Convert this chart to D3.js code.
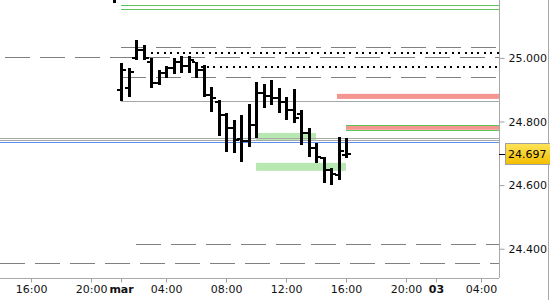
<!DOCTYPE html>
<html>
<head>
<meta charset="utf-8">
<script src="https://cdn.jsdelivr.net/npm/d3@7/dist/d3.min.js"></script>
<style>
  body { margin: 0; background: #fff; }
  svg { display: block; font-family: "DejaVu Sans", sans-serif; }
</style>
</head>
<body>
<div id="chart"></div>
<script>
// time is in session hours: 0 = 01:00 "mar", the 22:00-01:00 break is collapsed
const barTimes = [-0.5, 0, 0.5, 1, 1.5, 2, 2.5, 3, 3.5, 4, 4.5, 5, 5.5, 6, 6.5, 7, 7.5,
  8, 8.5, 9, 9.5, 10, 10.5, 11, 11.5, 12, 12.5, 13, 13.5, 14, 14.5, 15];
const opens  = [25.200, 24.899, 24.906, 25.000, 25.025, 24.987, 24.921, 24.953, 24.969, 24.987, 24.975,
  24.987, 24.962, 24.884, 24.862, 24.821, 24.780, 24.745, 24.739, 24.789, 24.890, 24.881, 24.874,
  24.862, 24.836, 24.824, 24.764, 24.717, 24.686, 24.648, 24.632, 24.695];
const highs  = [25.250, 24.984, 24.969, 25.057, 25.041, 25.000, 24.962, 24.975, 25.000, 25.006, 25.006,
  24.987, 24.978, 24.909, 24.868, 24.827, 24.805, 24.821, 24.855, 24.925, 24.918, 24.931, 24.906,
  24.877, 24.903, 24.836, 24.780, 24.733, 24.689, 24.654, 24.752, 24.748];
const lows   = [25.172, 24.865, 24.877, 24.994, 24.994, 24.906, 24.915, 24.937, 24.950, 24.953, 24.953,
  24.937, 24.877, 24.830, 24.755, 24.704, 24.701, 24.673, 24.720, 24.748, 24.843, 24.852, 24.827,
  24.805, 24.796, 24.726, 24.689, 24.670, 24.607, 24.601, 24.616, 24.686];
const closes = [25.200, 24.962, 24.956, 25.025, 25.000, 24.921, 24.953, 24.969, 24.987, 24.975, 24.994,
  24.962, 24.884, 24.874, 24.821, 24.780, 24.742, 24.739, 24.789, 24.890, 24.881, 24.874, 24.862,
  24.836, 24.811, 24.764, 24.717, 24.689, 24.648, 24.635, 24.707, 24.697];

const tickTimes  = [-6, -2, 0, 3, 7, 11, 15, 19, 21, 24];
const tickLabels = ['16:00', '20:00', 'mar', '04:00', '08:00', '12:00', '16:00', '20:00', '03', '04:00'];
const priceTicks = [25.0, 24.8, 24.6, 24.4];
const lastPrice = 24.697;

// levels (null start = from the left edge)
const dashedLevels = [25.035, 25.002, 24.939, 24.415, 24.355];
const dashedStart  = [0, null, 0, 1, null];
const dashedShift  = [0, 30, 0, 0, 0];
const dottedLevels = [25.017, 24.973];
const dottedStart  = [2, 5.3];
const grayLevels   = [24.866, 24.747, 24.742];
const grayStart    = [0, null, null];
const blueLevels   = [24.735];
const greenLevels  = [25.166, 25.154, 24.788, 24.772];
const greenStart   = [0, 0, 15, 15];
const bandLow   = [24.871, 24.774];
const bandHigh  = [24.887, 24.786];
const bandStart = [14.4, 15];
const zoneLow   = [24.742, 24.645];
const zoneHigh  = [24.764, 24.670];
const zoneStart = [9, 9];
const zoneEnd   = [13, 15];

const W = 550, H = 300;
const plotW = 499, plotH = 278;

const svg = d3.select('#chart').append('svg').attr('width', W).attr('height', H);
const x = d3.scaleLinear().domain([-8.07, 25.2]).range([0, plotW]);
const y = d3.scaleLinear().domain([24.308, 25.182]).range([plotH, 0]);
const px = v => Math.round(y(v)) + 0.5;
const sx = t => t === null ? 0 : x(t);

const defs = svg.append('defs');
defs.append('clipPath').attr('id', 'clip')
  .append('rect').attr('width', plotW).attr('height', plotH);
const grad = defs.append('linearGradient').attr('id', 'gold').attr('x1', 0).attr('x2', 0).attr('y1', 0).attr('y2', 1);
grad.append('stop').attr('offset', '0%').attr('stop-color', '#ffe45a');
grad.append('stop').attr('offset', '100%').attr('stop-color', '#f3bd00');

const g = svg.append('g').attr('clip-path', 'url(#clip)');

// light green zones
g.selectAll('rect.zone').data(zoneLow).enter().append('rect')
  .attr('class', 'zone')
  .attr('x', (d, i) => x(zoneStart[i]))
  .attr('width', (d, i) => x(zoneEnd[i]) - x(zoneStart[i]))
  .attr('y', (d, i) => y(zoneHigh[i]))
  .attr('height', (d, i) => y(d) - y(zoneHigh[i]))
  .attr('fill', '#b8e8b2');

// salmon bands
g.selectAll('rect.band').data(bandLow).enter().append('rect')
  .attr('class', 'band')
  .attr('x', (d, i) => x(bandStart[i]))
  .attr('width', (d, i) => plotW - x(bandStart[i]))
  .attr('y', (d, i) => y(bandHigh[i]))
  .attr('height', (d, i) => y(d) - y(bandHigh[i]))
  .attr('fill', '#f59690');

function levels(vals, starts, stroke, width, dash, shifts) {
  g.append('g').selectAll('line').data(vals).enter().append('line')
    .attr('x1', (d, i) => sx(starts ? starts[i] : null))
    .attr('x2', plotW)
    .attr('y1', d => px(d)).attr('y2', d => px(d))
    .attr('stroke', stroke)
    .attr('stroke-width', width)
    .attr('stroke-dasharray', dash)
    .attr('stroke-dashoffset', (d, i) => shifts ? shifts[i] : 0)
    .attr('shape-rendering', 'crispEdges');
}
levels(greenLevels, greenStart, '#5ec45a', 1.2, null);
levels(grayLevels, grayStart, '#a8a8a8', 1, null);
levels(blueLevels, null, '#5a8ef0', 1, null);
levels(dashedLevels, dashedStart, '#808080', 1, '25,10', dashedShift);
levels(dottedLevels, dottedStart, '#000', 2, '2,4.4');

// OHLC bars
const bars = g.append('g').selectAll('g').data(barTimes).enter().append('g')
  .attr('shape-rendering', 'crispEdges');
bars.append('rect')
  .attr('x', d => Math.round(x(d)) - 1)
  .attr('width', 3)
  .attr('y', (d, i) => y(highs[i]))
  .attr('height', (d, i) => y(lows[i]) - y(highs[i]))
  .attr('fill', '#000');
bars.append('rect')
  .attr('x', d => Math.round(x(d)) - 4)
  .attr('width', 3)
  .attr('y', (d, i) => Math.round(y(opens[i])) - 1)
  .attr('height', 2)
  .attr('fill', '#000');
bars.append('rect')
  .attr('x', d => Math.round(x(d)) + 2)
  .attr('width', 3)
  .attr('y', (d, i) => Math.round(y(closes[i])) - 1)
  .attr('height', 2)
  .attr('fill', '#000');

// axes
const yAxis = d3.axisRight(y).tickValues(priceTicks).tickFormat(d3.format('.3f'))
  .tickSize(5).tickSizeOuter(0).tickPadding(4);
const ya = svg.append('g').attr('transform', `translate(${plotW + 0.5},0)`).call(yAxis);
const xAxis = d3.axisBottom(x).tickValues(tickTimes).tickFormat((d, i) => tickLabels[i])
  .tickSize(4).tickSizeOuter(0).tickPadding(3);
const xa = svg.append('g').attr('transform', `translate(0,${plotH + 0.5})`).call(xAxis);
[ya, xa].forEach(a => {
  a.select('.domain').attr('stroke', '#a8a8a8');
  a.selectAll('.tick line').attr('stroke', '#a0a0a0');
  a.selectAll('text').attr('fill', '#111').attr('font-size', 11)
    .attr('font-family', '"DejaVu Sans", sans-serif');
});
xa.selectAll('text').attr('font-weight', (d, i) => tickLabels[i].includes(':') ? 'normal' : 'bold');
ya.select('.domain').attr('d', `M0,0V${plotH}`);
xa.select('.domain').attr('d', `M0,0H${plotW}`);

// right frame edge
svg.append('line').attr('x1', W - 1.5).attr('x2', W - 1.5).attr('y1', 0).attr('y2', H)
  .attr('stroke', '#a8a8a8').attr('shape-rendering', 'crispEdges');

// last price marker
const ly = y(lastPrice);
svg.append('line').attr('x1', plotW).attr('x2', plotW + 6)
  .attr('y1', Math.round(ly) + 0.5).attr('y2', Math.round(ly) + 0.5)
  .attr('stroke', '#000').attr('shape-rendering', 'crispEdges');
svg.append('rect').attr('x', 505.5).attr('y', Math.round(ly) - 10.5)
  .attr('width', 50).attr('height', 21)
  .attr('fill', 'url(#gold)').attr('stroke', '#a0a0a0');
svg.append('text').attr('x', 508).attr('y', ly).attr('dy', '0.35em')
  .attr('font-size', 11).attr('fill', '#000').text(d3.format('.3f')(lastPrice));
</script>
</body>
</html>
